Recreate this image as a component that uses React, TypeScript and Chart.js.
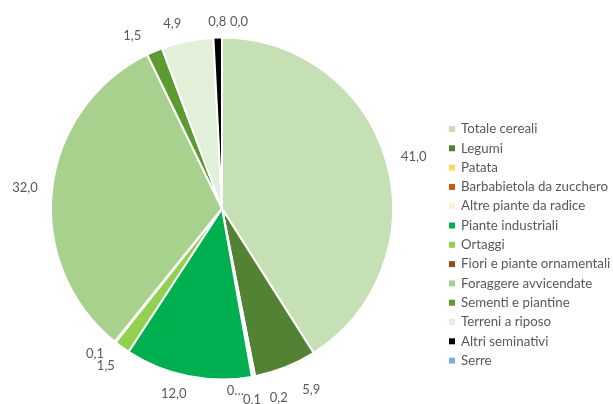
import React, { useEffect, useRef } from "react";
import { Chart, registerables } from "chart.js";

Chart.register(...registerables);

const categories = [
  "Totale cereali",
  "Legumi",
  "Patata",
  "Barbabietola da zucchero",
  "Altre piante da radice",
  "Piante industriali",
  "Ortaggi",
  "Fiori e piante ornamentali",
  "Foraggere avvicendate",
  "Sementi e piantine",
  "Terreni a riposo",
  "Altri seminativi",
  "Serre",
];

const values = [41.0, 5.9, 0.2, 0.1, 0.0, 12.0, 1.5, 0.1, 32.0, 1.5, 4.9, 0.8, 0.0];

const colors = [
  "#C5E0B4",
  "#548235",
  "#FFD966",
  "#C55A11",
  "#FFF2CC",
  "#00B050",
  "#92D050",
  "#9C4A12",
  "#A9D18E",
  "#5D9B30",
  "#E2F0D9",
  "#000000",
  "#7CAFDD",
];

const FONT = "Lato, 'Liberation Sans', sans-serif";
const TEXT_COLOR = "#595959";

// pixel nudges for crowded labels (mimic the original's label collision avoidance)
const labelNudges: Record<number, [number, number]> = {
  0: [2, 3],
  1: [18, 3],
  2: [21, 2],
  3: [-4, 4],
  4: [-20, -5],
  5: [-10, -2],
  6: [-3, 1],
  7: [-6, -6],
  8: [-1, 2],
  9: [-14, 4],
  10: [-11, 2],
  11: [0, 2],
  12: [17, 2],
};
const truncatedLabels = new Set([4]);

const fmt = (v: number) => v.toFixed(1).replace(".", ",");

const labelsPlugin = {
  id: "outsideLabels",
  afterDatasetsDraw(chart: any) {
    const ctx = chart.ctx;
    const meta = chart.getDatasetMeta(0);
    ctx.save();
    ctx.font = `13px ${FONT}`;
    ctx.fillStyle = TEXT_COLOR;
    ctx.textAlign = "center";
    ctx.textBaseline = "middle";
    meta.data.forEach((arc: any, i: number) => {
      const { x, y, startAngle, endAngle, outerRadius } = arc.getProps(
        ["x", "y", "startAngle", "endAngle", "outerRadius"],
        true
      );
      const mid = (startAngle + endAngle) / 2;
      const dx = Math.cos(mid);
      const dy = Math.sin(mid);
      const v = chart.data.datasets[0].data[i] as number;
      const text = truncatedLabels.has(i) ? fmt(v).charAt(0) + "…" : fmt(v);
      const w = ctx.measureText(text).width;
      const h = 10;
      const d = outerRadius + 13 + (Math.abs(dx) * w) / 2 + (Math.abs(dy) * h) / 2;
      const n = labelNudges[i] || [0, 0];
      ctx.fillText(text, x + dx * d + n[0], y + dy * d + n[1]);
    });
    ctx.restore();
  },
};

const legendPlugin = {
  id: "sideLegend",
  afterDraw(chart: any) {
    const ctx = chart.ctx;
    const labels = chart.data.labels as string[];
    const bg = chart.data.datasets[0].backgroundColor as string[];
    ctx.save();
    ctx.font = `13.3px ${FONT}`;
    ctx.textAlign = "left";
    ctx.textBaseline = "middle";
    const x0 = 449;
    const y0 = 129;
    const step = 19.3;
    labels.forEach((lab, i) => {
      const y = y0 + i * step;
      ctx.fillStyle = bg[i];
      ctx.fillRect(x0, y - 3, 6, 6);
      ctx.fillStyle = TEXT_COLOR;
      ctx.fillText(lab, 461, y);
    });
    ctx.restore();
  },
};

export default function App() {
  const ref = useRef<HTMLCanvasElement | null>(null);

  useEffect(() => {
    if (!ref.current) return;
    const chart = new Chart(ref.current, {
      type: "pie",
      data: {
        labels: categories,
        datasets: [
          {
            data: values,
            backgroundColor: colors,
            borderColor: "#FFFFFF",
            borderWidth: 2,
          },
        ],
      },
      options: {
        responsive: false,
        animation: false,
        layout: { padding: { left: 50, right: 219, top: 36, bottom: 23 } },
        plugins: {
          legend: { display: false },
          tooltip: { enabled: false },
        },
      },
      plugins: [labelsPlugin, legendPlugin],
    });
    return () => chart.destroy();
  }, []);

  return (
    <div style={{ position: "fixed", left: 0, top: 0, width: 613, height: 404, background: "#fff" }}>
      <canvas ref={ref} width={613} height={404} style={{ width: 613, height: 404 }} />
    </div>
  );
}
